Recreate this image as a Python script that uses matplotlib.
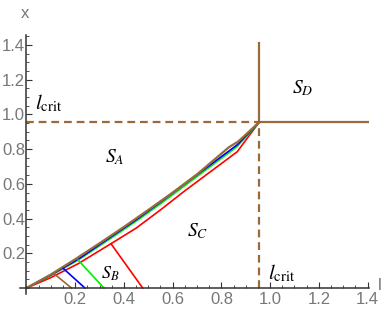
import numpy as np
import matplotlib
matplotlib.use('Agg')
import matplotlib.pyplot as plt
from matplotlib.ticker import MultipleLocator

plt.rcParams['mathtext.fontset'] = 'stix'
plt.rcParams['font.family'] = ['Liberation Sans', 'DejaVu Sans']

l_crit = 0.955

# boundary curves from origin to (l_crit, l_crit)
brown_x = [0, 0.1, 0.2, 0.3, 0.4, 0.5, 0.6, 0.7, 0.83, 0.87, 0.955]
brown_y = [0, 0.078, 0.166, 0.258, 0.352, 0.45, 0.55, 0.655, 0.81, 0.845, 0.955]
curve_x = [0, 0.1, 0.212, 0.35, 0.45, 0.55, 0.65, 0.76, 0.865, 0.955]
blue_y = [0, 0.075, 0.166, 0.298, 0.393, 0.495, 0.6, 0.715, 0.825, 0.955]
green_y = [0, 0.072, 0.161, 0.29, 0.385, 0.485, 0.59, 0.705, 0.815, 0.955]
red_y = [0, 0.06, 0.14, 0.258, 0.345, 0.45, 0.56, 0.675, 0.785, 0.955]

# short cross segments (start on curve, end on x axis)
seg_brown = ([0.11, 0.185], [0.086, 0])
seg_blue = ([0.151, 0.24], [0.113, 0])
seg_green = ([0.212, 0.318], [0.161, 0])
seg_red = ([0.347, 0.477], [0.255, 0])

brown = '#9a6a3a'

fig = plt.figure(figsize=(3.88, 3.19), dpi=100)
ax = fig.add_axes([0.0513, 0.078, 0.8992, 0.8138])
ax.set_xlim(-0.027, 1.405)
ax.set_ylim(-0.035, 1.46)

# l_crit lines
ax.plot([0, l_crit], [l_crit, l_crit], color=brown, lw=1.6, ls=(0, (3.5, 2.2)))
ax.plot([l_crit, l_crit], [0, l_crit], color=brown, lw=1.6, ls=(0, (3.5, 2.2)))
ax.plot([l_crit, 1.40], [l_crit, l_crit], color=brown, lw=1.6)
ax.plot([l_crit, l_crit], [l_crit, 1.41], color=brown, lw=1.6)

ax.plot(curve_x, red_y, color='#ff0000', lw=1.2)
ax.plot(curve_x, green_y, color='#00ee00', lw=1.2)
ax.plot(curve_x, blue_y, color='#0000ff', lw=1.2)
ax.plot(brown_x, brown_y, color=brown, lw=1.6)

ax.plot(*seg_red, color='#ff0000', lw=1.2)
ax.plot(*seg_green, color='#00ee00', lw=1.2)
ax.plot(*seg_blue, color='#0000ff', lw=1.2)
ax.plot(*seg_brown, color=brown, lw=1.2)

# labels
ax.text(0.035, 1.03, r'$l_{\rm crit}$', fontsize=15, ha='left', va='baseline')
ax.text(0.99, 0.05, r'$l_{\rm crit}$', fontsize=15, ha='left', va='baseline')
ax.text(0.363, 0.755, r'$S_A$', fontsize=14, ha='center', va='center')
ax.text(0.343, 0.08, r'$S_B$', fontsize=13, ha='center', va='center')
ax.text(0.704, 0.33, r'$S_C$', fontsize=14, ha='center', va='center')
ax.text(1.135, 1.15, r'$S_D$', fontsize=14, ha='center', va='center')

# axes styling
for s in ['top', 'right']:
    ax.spines[s].set_visible(False)
ax.spines['left'].set_position(('data', 0))
ax.spines['bottom'].set_position(('data', 0))
for s in ['left', 'bottom']:
    ax.spines[s].set_color('#333333')
    ax.spines[s].set_linewidth(1.1)

ax.xaxis.set_major_locator(MultipleLocator(0.2))
ax.xaxis.set_minor_locator(MultipleLocator(0.05))
ax.yaxis.set_major_locator(MultipleLocator(0.2))
ax.yaxis.set_minor_locator(MultipleLocator(0.05))
ax.set_xticks([0.2, 0.4, 0.6, 0.8, 1.0, 1.2, 1.4])
ax.set_yticks([0.2, 0.4, 0.6, 0.8, 1.0, 1.2, 1.4])
ax.set_xticklabels(['0.2', '0.4', '0.6', '0.8', '1.0', '1.2', '1.4'])
ax.set_yticklabels(['0.2', '0.4', '0.6', '0.8', '1.0', '1.2', '1.4'])
ax.tick_params(which='major', direction='in', length=4, width=0.8, color='#333333',
               labelsize=12, labelcolor='#777777', pad=3)
ax.tick_params(which='minor', direction='in', length=2.2, width=0.6, color='#333333')
ax.tick_params(axis='y', pad=1)

fig.text(25 / 388, 1 - 14 / 319, 'x', fontsize=12, color='#777777', ha='center', va='center')
fig.text(380 / 388, 1 - 285 / 319, 'l', fontsize=12, color='#777777', ha='center', va='center')

fig.savefig('out.png', dpi=100)
